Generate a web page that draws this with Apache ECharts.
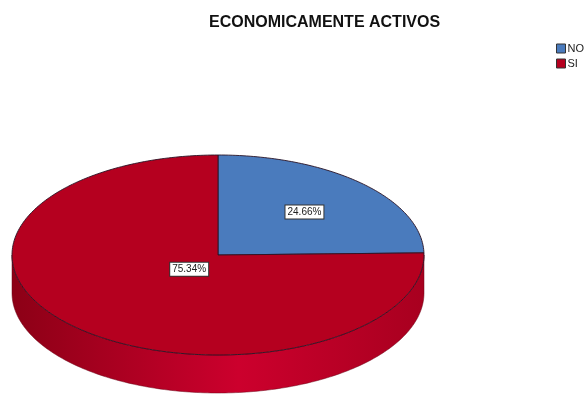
<!DOCTYPE html>
<html><head><meta charset="utf-8">
<script src="https://cdn.jsdelivr.net/npm/echarts@6/dist/echarts.min.js"></script>
<style>html,body{margin:0;padding:0;background:#fff}#c{width:584px;height:394px}</style>
</head><body><div id="c"></div><script>
// ---- data ----
const chartTitle = 'ECONOMICAMENTE ACTIVOS';
const categories = ['NO', 'SI'];
const values = [24.66, 75.34];
const valueLabels = ['24.66%', '75.34%'];

// ---- style ----
const topColors = ['#4a7bbd', '#b5001f'];
const wallStops = [['#2f5a95', '#4a7fc2', '#36649f'], ['#8c0016', '#cc002d', '#a8001f']];
const FONT = '"Liberation Sans", Arial, sans-serif';
const CX = 218, CY = 255, RX = 206, RY = 100, DEPTH = 38;
const LABEL_K = [0.6, 0.2];

const total = values.reduce((a, b) => a + b, 0);
function startAngle(i) { let s = 0; for (let k = 0; k < i; k++) s += values[k]; return s / total * 360; }
function pt(deg, dy) {
  const r = deg * Math.PI / 180;
  return [CX + RX * Math.sin(r), CY - RY * Math.cos(r) + (dy || 0)];
}
function arc(a, b, dy) {
  const pts = []; const n = Math.max(2, Math.ceil(Math.abs(b - a)));
  for (let j = 0; j <= n; j++) pts.push(pt(a + (b - a) * j / n, dy));
  return pts;
}

function makeRender(i) {
  return function (params, api) {
    const v = api.value(0);
    const a = startAngle(i), b = a + v / total * 360;
    const children = [];
    const fa = Math.max(a, 90), fb = Math.min(b, 270);
    if (fb > fa) {
      const pts = arc(fa, fb, 0).concat(arc(fb, fa, DEPTH));
      children.push({
        type: 'polygon', z2: 1, shape: { points: pts },
        style: {
          fill: new echarts.graphic.LinearGradient(1, 0, 0, 0, [
            { offset: 0, color: wallStops[i][2] },
            { offset: 0.45, color: wallStops[i][1] },
            { offset: 1, color: wallStops[i][0] }
          ]),
          stroke: '#6a0014', lineWidth: 0.5
        }
      });
    }
    const top = [[CX, CY]].concat(arc(a, b, 0));
    children.push({
      type: 'polygon', z2: 5, shape: { points: top },
      style: { fill: topColors[i], stroke: '#2a1426', lineWidth: 0.9 }
    });
    const m = (a + b) / 2 * Math.PI / 180, k = LABEL_K[i];
    children.push({
      type: 'text', z2: 10,
      x: CX + k * RX * Math.sin(m), y: CY - k * RY * Math.cos(m),
      style: {
        text: valueLabels[i], fill: '#222', font: '10px ' + FONT,
        align: 'center', verticalAlign: 'middle',
        backgroundColor: '#fff', borderColor: '#333', borderWidth: 1, padding: [2, 2, 1, 2]
      }
    });
    return { type: 'group', children };
  };
}

const chart = echarts.init(document.getElementById('c'), null, { renderer: 'canvas' });
chart.setOption({
  animation: false,
  title: {
    text: chartTitle, left: 204, top: 10,
    textStyle: { fontFamily: FONT, fontSize: 16, fontWeight: 'bold', color: '#111' }
  },
  legend: {
    orient: 'vertical', left: 551, top: 38, icon: 'rect',
    itemWidth: 9, itemHeight: 9, itemGap: 4,
    itemStyle: { borderColor: '#333', borderWidth: 1 },
    textStyle: { fontFamily: FONT, fontSize: 11, color: '#222', padding: [0, 0, 0, -3] },
    data: categories
  },
  series: categories.map((name, i) => ({
    type: 'custom', name, coordinateSystem: 'none',
    itemStyle: { color: topColors[i] },
    data: [values[i]],
    renderItem: makeRender(i)
  }))
});
</script></body></html>
